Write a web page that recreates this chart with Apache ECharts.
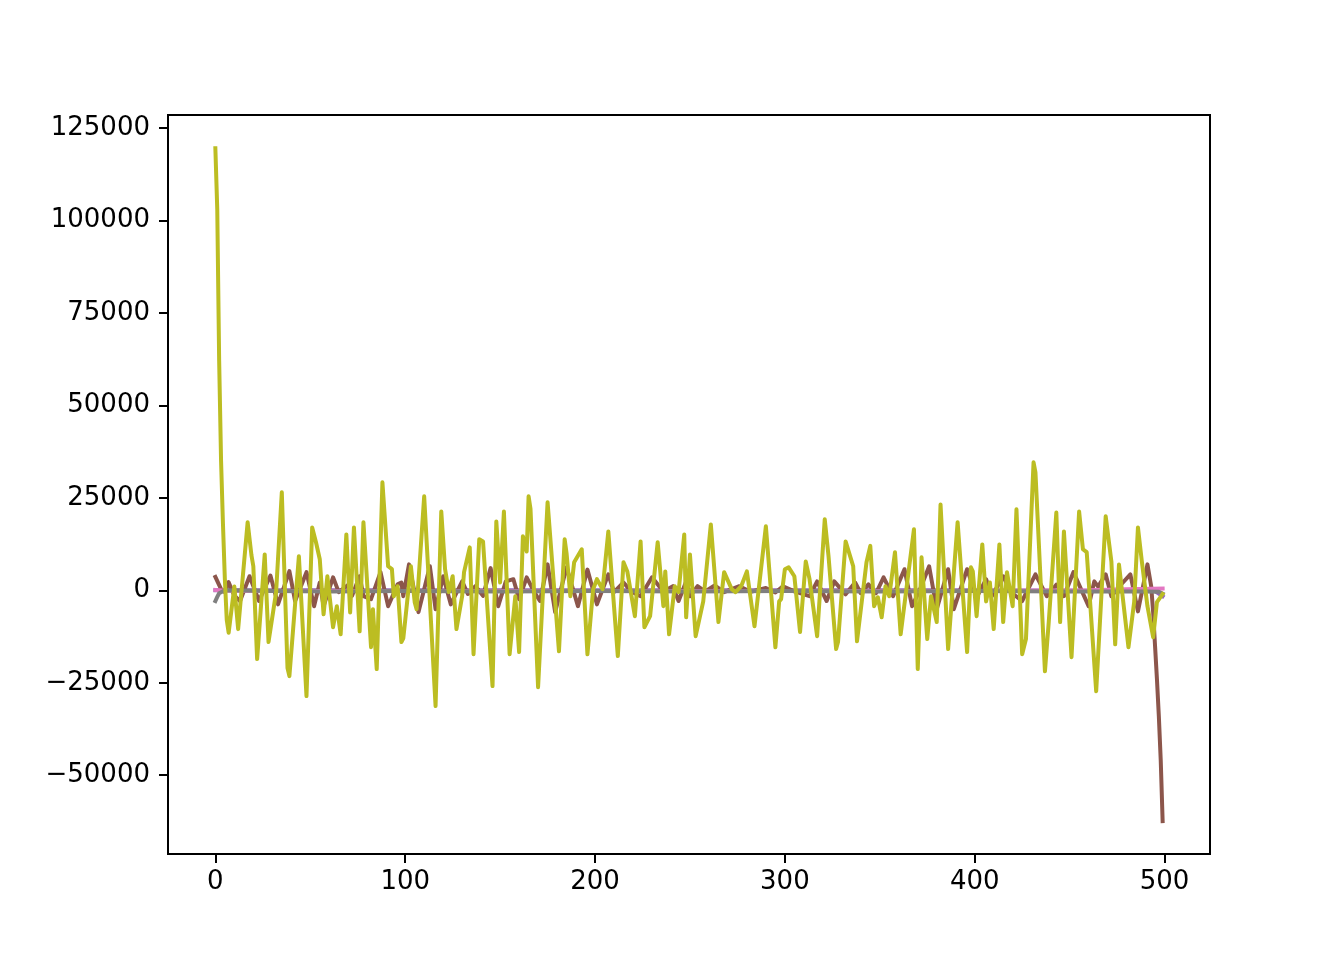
<!DOCTYPE html>
<html>
<head>
<meta charset="utf-8">
<script src="https://cdn.jsdelivr.net/npm/echarts@6/dist/echarts.min.js"></script>
<style>html,body{margin:0;padding:0;background:#fff}#c{width:1344px;height:960px}</style>
</head>
<body>
<div id="c"></div>
<script>
// x tick labels and y tick labels
const xTicks = [0, 100, 200, 300, 400, 500];
const yTicks = [-50000, -25000, 0, 25000, 50000, 75000, 100000, 125000];

// series vertices: [index, value]
const purpleSeries = [[0,0],[100,0],[250,0],[400,0],[495,-200],[499,-1600]];
const pinkSeries = [[0,100],[6,-100],[100,-200],[200,-200],[300,-200],[400,-200],[460,0],[480,300],[499,500]];
const graySeries = [[0,-2900],[1,-1800],[2,-800],[3,-300],[5,0],[30,-200],[60,-300],[100,-200],[150,-300],[200,-200],[250,-300],[300,-200],[350,-300],[400,-200],[450,-300],[490,-300],[497,-400],[499,-900]];
const brownSeries = [[0,3600],[3,300],[5,-500],[7,2200],[10,-1500],[13,-2900],[18,3800],[23,-2900],[29,4000],[33,-3800],[39,5200],[42,-2900],[48,4900],[52,-4300],[55,2100],[57,-4300],[62,3500],[65,-500],[70,1500],[72,-1500],[76,3800],[78,-1600],[82,-2400],[87,4900],[91,-4300],[96,1600],[98,2100],[99,-1600],[102,7000],[107,-5900],[113,6500],[116,-5100],[120,3800],[124,-3800],[130,2400],[133,-1000],[137,1100],[141,-1500],[145,6000],[149,-4300],[153,2400],[157,3000],[160,-2400],[164,3500],[168,-500],[171,-2900],[175,7000],[179,-5900],[185,6200],[191,-4300],[196,5600],[201,-3800],[207,4300],[210,-500],[215,2100],[219,-300],[224,-1600],[230,3500],[236,-300],[241,1100],[244,-2900],[248,2400],[250,-1600],[254,1100],[258,-300],[263,1300],[268,-500],[276,1100],[282,-400],[290,600],[295,-600],[299,1100],[305,-300],[313,-1600],[317,2400],[322,-2900],[326,2400],[332,-1100],[337,2100],[340,-800],[344,1600],[348,-800],[352,3500],[357,-1600],[363,5700],[367,-4300],[371,0],[376,6500],[380,-5100],[386,5700],[389,-5100],[396,5700],[401,-2000],[406,3000],[409,-1600],[415,3800],[419,-500],[425,-2900],[432,4300],[438,-1600],[443,1500],[447,-1600],[452,4900],[460,-4300],[463,2400],[465,1000],[469,4300],[472,-1600],[477,1500],[482,4300],[486,-5700],[491,7000],[493,1000],[494,-6000],[495,-15000],[496,-24000],[497,-34000],[498,-46000],[499,-62400]];
const oliveSeries = [[0,119500],[1,103000],[2,62000],[3,35000],[4,18000],[5,3000],[6,-8000],[7,-11500],[8,-12000],[10,1000],[12,-10500],[17,18400],[19,9500],[20,6500],[22,-18600],[26,9700],[28,-14000],[32,-500],[35,26500],[38,-21000],[39,-23200],[44,9200],[48,-28600],[51,17000],[53,13000],[55,8400],[57,-6500],[59,3800],[62,-10000],[64,-4300],[66,-11900],[69,15100],[71,-6000],[73,17000],[76,-11100],[78,18400],[82,-15400],[83,-5100],[85,-21300],[88,29200],[91,6500],[93,5700],[94,-1600],[96,1100],[98,-14000],[99,-13000],[103,6500],[105,-3200],[106,-5100],[110,25400],[116,-31300],[119,21300],[121,5700],[123,-500],[125,3800],[127,-10500],[130,-1600],[131,4900],[134,11600],[136,-17300],[139,13800],[141,13200],[146,-25900],[148,18600],[150,2100],[152,21300],[155,-17300],[158,-1600],[160,-16700],[162,14600],[164,10500],[165,25400],[166,22000],[170,-26200],[175,23800],[181,-16500],[184,13800],[185,10000],[187,-1600],[189,7600],[193,11100],[196,-17300],[199,300],[201,3000],[204,300],[207,15900],[212,-17800],[215,7600],[217,5100],[221,-7000],[224,13200],[226,-10000],[229,-7000],[233,13000],[236,-4300],[237,5100],[239,-11900],[242,1100],[244,-500],[247,15100],[248,-7300],[250,9700],[253,-12400],[257,-3000],[261,17800],[265,-8600],[268,4900],[272,300],[274,-500],[277,1100],[280,5100],[284,-9700],[290,17300],[295,-15400],[297,-3000],[298,-2400],[300,5700],[302,6200],[305,3800],[308,-11300],[311,7800],[313,3000],[317,-12400],[321,19200],[323,9200],[327,-15900],[328,-14000],[332,13200],[333,13500],[336,6500],[338,-13800],[343,7600],[345,12000],[347,-4300],[349,-1900],[351,-7300],[353,1100],[355,-1600],[358,10300],[361,-11900],[368,16500],[370,-21300],[372,8900],[375,-13200],[377,-1600],[380,-8600],[382,23200],[386,-15900],[391,18400],[396,-16700],[398,6200],[399,5100],[401,-7000],[404,12400],[406,-3000],[408,2100],[410,-10500],[413,12400],[415,-8600],[417,4900],[418,4500],[420,-4300],[422,21900],[425,-17300],[427,-13200],[431,34600],[432,31900],[437,-21900],[439,-8600],[440,-8400],[443,21000],[445,-8600],[447,15900],[451,-18100],[455,21300],[457,11100],[459,10300],[464,-27300],[469,20000],[472,7800],[474,-14600],[476,7000],[481,-15400],[484,-3200],[486,17000],[488,8000],[491,-4300],[494,-12700],[496,-3200],[499,-1000]];

const FONT = 'DejaVu Sans';
const chart = echarts.init(document.getElementById('c'), null, {renderer: 'canvas'});
function mk(name, data, color) {
  return {name, type: 'line', data, showSymbol: false, symbol: 'none', smooth: false,
    lineStyle: {color, width: 4, cap: 'square', join: 'round'}, animation: false};
}
chart.setOption({
  animation: false,
  backgroundColor: '#fff',
  grid: {left: 168, right: 134, top: 115, bottom: 106, show: true, borderColor: '#000', borderWidth: 2, backgroundColor: 'transparent', containLabel: false},
  xAxis: {
    type: 'value', min: -24.95, max: 523.95,
    splitLine: {show: false},
    axisLine: {show: true, onZero: false, lineStyle: {color: '#000', width: 2}},
    axisTick: {show: true, length: 9, inside: false, lineStyle: {color: '#000', width: 2}, customValues: xTicks},
    axisLabel: {show: true, margin: 15, color: '#000', fontSize: 26, fontFamily: FONT, customValues: xTicks}
  },
  yAxis: {
    type: 'value', min: -71300, max: 128500,
    splitLine: {show: false},
    axisLine: {show: true, onZero: false, lineStyle: {color: '#000', width: 2}},
    axisTick: {show: true, length: 9, inside: false, lineStyle: {color: '#000', width: 2}, customValues: yTicks},
    axisLabel: {show: true, margin: 18, color: '#000', fontSize: 26, fontFamily: FONT, customValues: yTicks,
      formatter: v => String(v).replace('-', '\u2212')}
  },
  series: [
    mk('purple', purpleSeries, '#9467bd'),
    mk('brown', brownSeries, '#8c564b'),
    mk('pink', pinkSeries, '#e377c2'),
    mk('gray', graySeries, '#7f7f7f'),
    mk('olive', oliveSeries, '#bcbd22')
  ]
});
</script>
</body>
</html>
